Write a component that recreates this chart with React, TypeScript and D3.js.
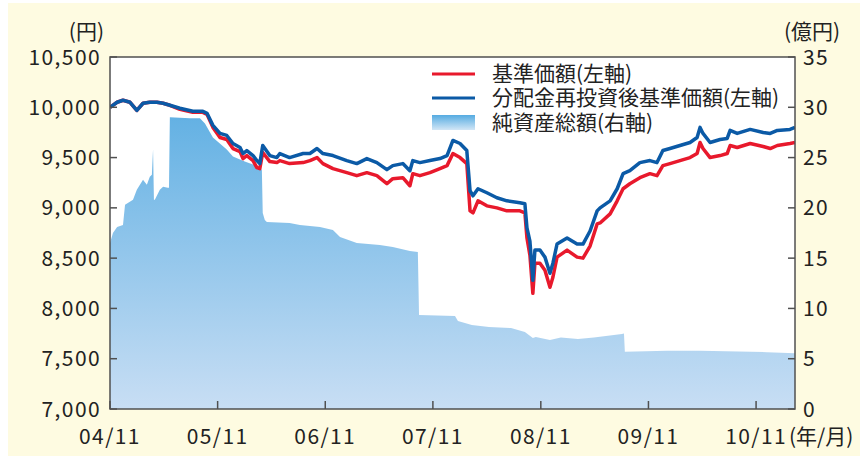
import React from "react";
import * as d3 from "d3";

// ---- data ----
const lineDates = [
  "2004-11-01","2004-11-25","2004-12-15","2005-01-08","2005-01-31","2005-02-21","2005-03-16","2005-04-09","2005-04-30","2005-05-23",
  "2005-06-26","2005-08-09","2005-09-12","2005-09-26","2005-10-16","2005-11-09","2005-12-02","2005-12-23","2006-01-16","2006-01-26",
  "2006-02-08","2006-03-01","2006-03-14","2006-03-24","2006-04-03","2006-04-27","2006-05-21","2006-05-31","2006-07-03","2006-08-18",
  "2006-09-10","2006-10-04","2006-10-24","2006-11-27","2007-01-13","2007-02-16","2007-03-22","2007-04-25","2007-05-29","2007-06-18",
  "2007-07-22","2007-08-15","2007-08-25","2007-09-18","2007-10-22","2007-11-25","2007-12-19","2008-01-08","2008-02-01","2008-02-24",
  "2008-03-06","2008-03-16","2008-04-02","2008-05-02","2008-06-05","2008-07-09","2008-08-22","2008-09-08","2008-09-15","2008-09-25",
  "2008-10-05","2008-10-12","2008-10-29","2008-11-15","2008-12-02","2008-12-12","2008-12-26","2009-01-29","2009-03-04","2009-03-24",
  "2009-04-17","2009-05-11","2009-05-21","2009-06-24","2009-07-18","2009-08-07","2009-08-30","2009-10-03","2009-11-06","2009-11-30",
  "2009-12-20","2010-01-13","2010-02-16","2010-03-22","2010-04-15","2010-04-25","2010-05-05","2010-05-29","2010-07-02","2010-07-26",
  "2010-08-05","2010-08-29","2010-10-12","2010-11-25","2010-12-19","2011-01-12","2011-02-24","2011-03-13",
];

// 分配金再投資後基準価額 (円)
const reinvestedNav = [
  10000,10050,10070,10050,9970,10040,10050,10050,10040,10020,
  9990,9960,9960,9940,9820,9740,9720,9640,9600,9540,
  9570,9520,9470,9440,9620,9520,9500,9540,9500,9540,
  9540,9590,9540,9520,9470,9440,9490,9450,9380,9420,
  9440,9370,9470,9450,9470,9490,9520,9670,9640,9570,
  9170,9120,9190,9150,9100,9070,9050,9040,8800,8670,
  8280,8580,8580,8510,8350,8450,8640,8700,8640,8640,
  8770,8970,9000,9070,9190,9340,9370,9450,9470,9450,
  9570,9590,9620,9650,9700,9800,9740,9650,9680,9690,
  9770,9740,9780,9750,9740,9770,9780,9800,
];

// 基準価額 (円)
const nav = [
  10000,10050,10070,10050,9970,10040,10050,10050,10040,10020,
  9980,9950,9950,9930,9800,9700,9680,9590,9560,9490,
  9520,9470,9400,9390,9550,9460,9450,9470,9440,9450,
  9470,9500,9440,9390,9350,9320,9350,9320,9240,9290,
  9300,9220,9340,9320,9350,9390,9420,9540,9500,9440,
  8970,8950,9070,9020,9000,8970,8970,8950,8700,8530,
  8150,8450,8450,8380,8210,8310,8510,8580,8510,8500,
  8620,8840,8850,8940,9070,9190,9240,9300,9340,9320,
  9420,9440,9470,9500,9540,9650,9590,9500,9520,9540,
  9620,9600,9640,9610,9590,9620,9640,9650,
];

// 純資産総額 (億円)
const assetDates = [
  "2004-11-01","2004-11-11","2004-11-25","2004-12-15","2004-12-22","2005-01-18","2005-01-31","2005-02-21","2005-03-06","2005-03-16",
  "2005-03-23","2005-03-27","2005-03-30","2005-04-02","2005-04-19","2005-04-30","2005-05-16","2005-05-20","2005-05-23","2005-07-30",
  "2005-09-02","2005-09-19","2005-10-16","2005-12-02","2005-12-23","2006-02-01","2006-03-01","2006-03-31","2006-04-03","2006-04-10",
  "2006-04-17","2006-07-03","2006-08-07","2006-10-14","2006-11-27","2006-12-21","2007-02-16","2007-05-05","2007-06-18","2007-08-15",
  "2007-09-11","2007-09-15","2008-01-15","2008-01-25","2008-03-12","2008-05-09","2008-07-23","2008-09-08","2008-10-05","2008-10-15",
  "2008-12-02","2009-01-08","2009-03-07","2009-04-30","2009-08-03","2009-08-10","2009-08-13","2010-01-03","2010-04-25","2010-12-08",
  "2011-03-13",
];
const netAssets = [
  16.5,17.5,18.1,18.3,20.3,20.8,21.8,22.8,22.3,23.1,
  23.3,25.8,20.8,20.8,21.8,22.1,22.0,22.0,29.0,28.9,
  28.9,28.4,27.0,25.8,25.1,24.6,24.3,23.8,19.5,18.8,
  18.6,18.5,18.3,18.1,17.8,17.1,16.5,16.3,16.1,15.7,
  15.6,9.35,9.25,8.75,8.35,8.15,8.05,7.65,7.05,7.15,
  6.85,7.1,6.95,7.1,7.45,7.5,5.7,5.8,5.8,5.65,
  5.55,
];

const leftTicks = [7000, 7500, 8000, 8500, 9000, 9500, 10000, 10500];
const rightTicks = [0, 5, 10, 15, 20, 25, 30, 35];
const xTickDates = ["2004-11-01","2005-11-01","2006-11-01","2007-11-01","2008-11-01","2009-11-01","2010-11-01"];

const legendItems = ["基準価額(左軸)", "分配金再投資後基準価額(左軸)", "純資産総額(右軸)"];

const W = 868, H = 459;
const L = 110, R = 795, T = 57, B = 409;
const FONT = "'Noto Sans CJK JP', 'Noto Sans', sans-serif";
const AXIS = "#505050";
const RED = "#e8192c";
const BLUE = "#0b5aa6";
const NUM_SIZE = 21;
const NUM_SPACING = 1.4;

const parse = d3.timeParse("%Y-%m-%d");
const fmt = d3.format(",");
const tickFmt = d3.timeFormat("%y/%m");

export default function App() {
  const x = d3.scaleTime().domain([parse("2004-11-01")!, parse("2011-03-13")!]).range([L, R]);
  const yL = d3.scaleLinear().domain([7000, 10500]).range([B, T]);
  const yR = d3.scaleLinear().domain([0, 35]).range([B, T]);

  const lineData = lineDates.map((d, i) => ({ date: parse(d)!, nav: nav[i], re: reinvestedNav[i] }));
  const assetData = assetDates.map((d, i) => ({ date: parse(d)!, v: netAssets[i] }));

  const redPath = d3.line<any>().x(d => x(d.date)).y(d => yL(d.nav))(lineData)!;
  const bluePath = d3.line<any>().x(d => x(d.date)).y(d => yL(d.re))(lineData)!;
  const areaPath = d3.area<any>().x(d => x(d.date)).y0(B).y1(d => yR(d.v))(assetData)!;

  return (
    <div style={{ position: "absolute", left: 0, top: 0 }}>
      <svg width={W} height={H} style={{ display: "block" }} fontFamily={FONT}>
        <defs>
          <linearGradient id="areaGrad" gradientUnits="userSpaceOnUse" x1="0" y1={T} x2="0" y2={B}>
            <stop offset="0" stopColor="#4fa8e0" />
            <stop offset="1" stopColor="#c8def4" />
          </linearGradient>
          <linearGradient id="legGrad" x1="0" y1="0" x2="0" y2="1">
            <stop offset="0" stopColor="#55abe1" />
            <stop offset="1" stopColor="#d2e6f6" />
          </linearGradient>
          <clipPath id="plotClip">
            <rect x={L} y={T} width={R - L} height={B - T} />
          </clipPath>
        </defs>
        <rect x={8} y={3} width={852} height={453} fill="#fefbe1" />
        <rect x={L} y={T} width={R - L} height={B - T} fill="#ffffff" />

        <g clipPath="url(#plotClip)">
          <path d={areaPath} fill="url(#areaGrad)" />
          <path d={redPath} fill="none" stroke={RED} strokeWidth={3.5} strokeLinejoin="round" />
          <path d={bluePath} fill="none" stroke={BLUE} strokeWidth={3.5} strokeLinejoin="round" />
        </g>

        {/* frame */}
        <rect x={L} y={T} width={R - L} height={B - T} fill="none" stroke={AXIS} strokeWidth={1.5} />

        {/* left ticks */}
        {leftTicks.map(t => (
          <g key={"l" + t}>
            <line x1={L} x2={L + 7} y1={yL(t)} y2={yL(t)} stroke={AXIS} strokeWidth={1.5} />
            <text x={L - 9} y={yL(t)} dy="0.36em" textAnchor="end" fontSize={NUM_SIZE} letterSpacing={NUM_SPACING} fill="#222">{fmt(t)}</text>
          </g>
        ))}
        {/* right ticks */}
        {rightTicks.map(t => (
          <g key={"r" + t}>
            <line x1={R - 7} x2={R} y1={yR(t)} y2={yR(t)} stroke={AXIS} strokeWidth={1.5} />
            <text x={R + 8} y={yR(t)} dy="0.36em" textAnchor="start" fontSize={NUM_SIZE} letterSpacing={NUM_SPACING} fill="#222">{t}</text>
          </g>
        ))}
        {/* bottom ticks */}
        {xTickDates.map(s => {
          const d = parse(s)!;
          return (
            <g key={"x" + s}>
              <line x1={x(d)} x2={x(d)} y1={B - 8} y2={B} stroke={AXIS} strokeWidth={1.5} />
              <text x={x(d)} y={436} dy="0.36em" textAnchor="middle" fontSize={NUM_SIZE} letterSpacing={NUM_SPACING} fill="#222">{tickFmt(d)}</text>
            </g>
          );
        })}
        <text x={789} y={436} dy="0.36em" textAnchor="start" fontSize={NUM_SIZE} fill="#222">(年/月)</text>

        {/* unit labels */}
        <text x={104} y={31} dy="0.36em" textAnchor="end" fontSize={NUM_SIZE} fill="#222">(円)</text>
        <text x={784} y={31} dy="0.36em" textAnchor="start" fontSize={NUM_SIZE} fill="#222">(億円)</text>

        {/* legend */}
        <line x1={432} x2={475} y1={74} y2={74} stroke={RED} strokeWidth={3} />
        <line x1={432} x2={475} y1={98} y2={98} stroke={BLUE} strokeWidth={3} />
        <rect x={432} y={115} width={43} height={15} fill="url(#legGrad)" />
        {legendItems.map((s, i) => (
          <text key={s} x={492} y={73 + i * 24.5} dy="0.36em" fontSize={21} fill="#222">{s}</text>
        ))}
      </svg>
    </div>
  );
}
